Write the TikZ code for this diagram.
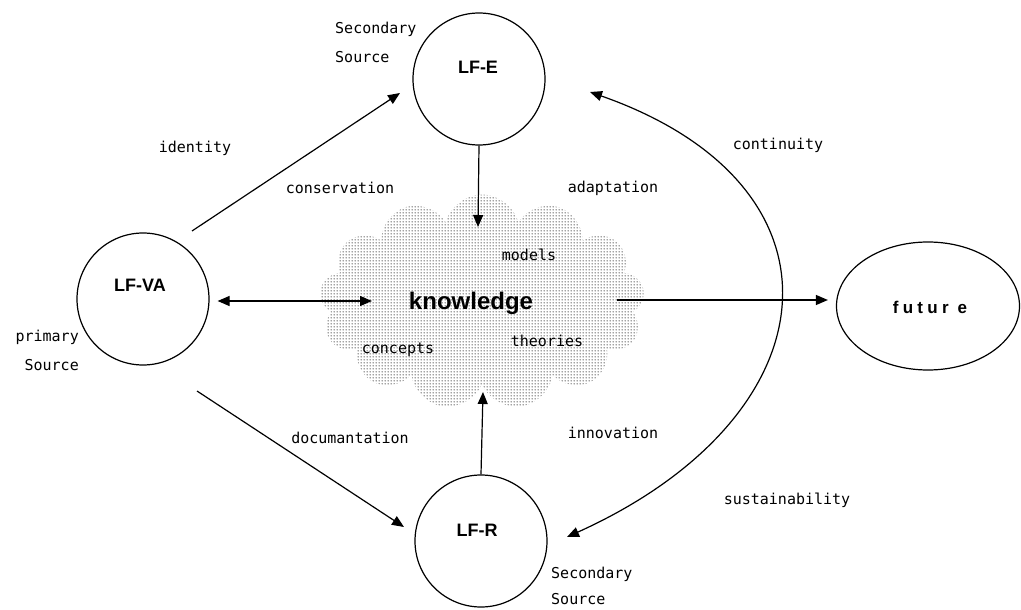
\documentclass[tikz,border=0pt]{standalone}
\usepackage{fontspec}
\setmainfont{Liberation Sans}
\newfontfamily\lblfont{DejaVu Sans Mono}
\newfontfamily\spacedfont[LetterSpace=25]{Liberation Sans}
\usetikzlibrary{arrows.meta,shapes.symbols,shapes.geometric,patterns,calc}
\pgfdeclarepatternformonly{mydots}{\pgfpointorigin}{\pgfpoint{3pt}{3pt}}{\pgfpoint{3pt}{3pt}}{%
  \pgfpathcircle{\pgfpoint{1.5pt}{1.5pt}}{0.85pt}\pgfusepath{fill}}
\begin{document}
\begin{tikzpicture}[x=1pt,y=-1pt,
  circ/.style={circle,draw,line width=1.2pt,minimum size=132pt,inner sep=0pt},
  conn/.style={line width=1.2pt,-{Triangle[length=12pt,width=10pt]}},
  both/.style={line width=1.2pt,{Triangle[length=12pt,width=10pt]}-{Triangle[length=12pt,width=10pt]}},
  lbl/.style={font=\lblfont\fontsize{15}{17}\selectfont,inner sep=0pt},
  ttl/.style={font=\bfseries\fontsize{18}{20}\selectfont,inner sep=0pt}]
\useasboundingbox (0,0) rectangle (1021,610);
% knowledge cloud
\node[cloud, cloud puffs=13, aspect=1.5, minimum width=325pt, minimum height=215pt,
      pattern=mydots, pattern color=black!72, draw=none] (K) at (482,302) {};
% nodes
\node[circ] (LFE) at (479,79) {};
\node[circ] (LFVA) at (143,299) {};
\node[circ] (LFR) at (481,541) {};
\node[ellipse,draw,line width=1.2pt,minimum width=183pt,minimum height=128pt,inner sep=0pt] (FUT) at (928,306) {};
% titles
\node[ttl] (tE) at (478,67) {LF-E};
\node[ttl] (tVA) at (140,285) {LF-VA};
\node[ttl] (tR) at (477,530) {LF-R};
\node[font=\spacedfont\bfseries\fontsize{17}{20}\selectfont,inner sep=0pt] (tF) at (930,307) {futur e};
\node[font=\bfseries\fontsize{24}{28}\selectfont,inner sep=0pt] (tK) at (471,303) {knowledge};
% labels
\node[lbl,anchor=west] (s1a) at (335,29) {Secondary};
\node[lbl,anchor=west] (s1b) at (335,57) {Source};
\node[lbl] (lid) at (195,148) {identity};
\node[lbl] (lcons) at (340,188) {conservation};
\node[lbl] (ladap) at (613,188) {adaptation};
\node[lbl] (lcont) at (778,145) {continuity};
\node[lbl] (lmod) at (529,255) {models};
\node[lbl] (lconc) at (398,350) {concepts};
\node[lbl] (lthe) at (547,341) {theories};
\node[lbl,anchor=east] (p1) at (79,337) {primary};
\node[lbl,anchor=east] (p2) at (79,365) {Source};
\node[lbl] (ldoc) at (350,438) {documantation};
\node[lbl] (linn) at (613,433) {innovation};
\node[lbl] (lsus) at (787,500) {sustainability};
\node[lbl,anchor=west] (s2a) at (551,574) {Secondary};
\node[lbl,anchor=west] (s2b) at (551,599) {Source};
% connectors
\draw[conn] ($(LFVA)+(49,-68)$) -- ($(LFE)+(-79,14)$);
\draw[conn] (LFE.south) -- ($(K)+(-4,-75)$);
\draw[conn] (LFR.north) -- ($(K)+(1,90)$);
\draw[both] ($(LFVA.east)+(8,2)$) -- ($(K)+(-110,-1)$);
\draw[conn] ($(K)+(135,-2)$) -- ($(K -| FUT.west)+(-8,-2)$);
\draw[conn] ($(LFVA)+(54,92)$) -- ($(LFR)+(-77,-14)$);
\draw[both] ($(LFE)+(111,13)$) .. controls ($(LFE)+(379,107)$) and ($(LFR)+(354,-125)$) .. ($(LFR)+(86,-4)$);
\end{tikzpicture}
\end{document}
